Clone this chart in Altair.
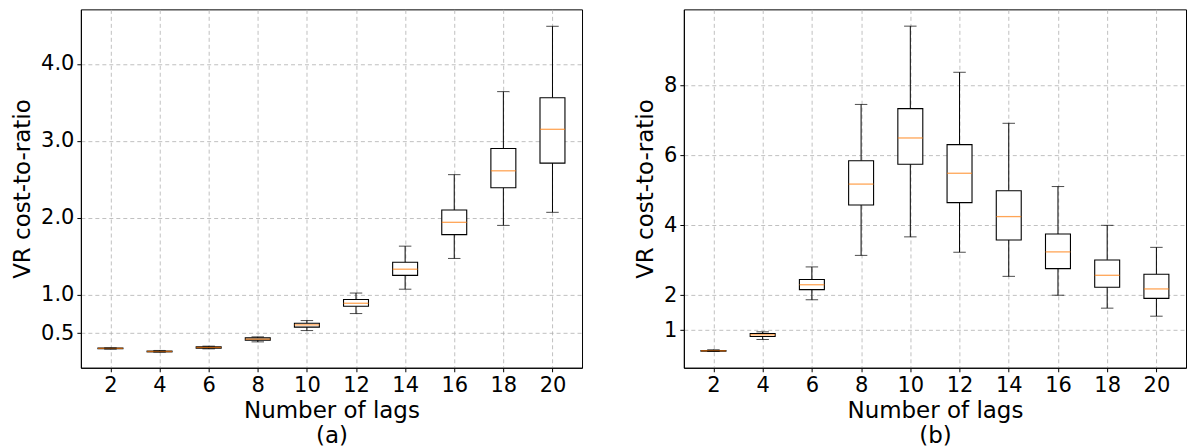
import altair as alt
import pandas as pd

lags = [2, 4, 6, 8, 10, 12, 14, 16, 18, 20]

# Panel (a)
a_low = [0.290, 0.251, 0.294, 0.385, 0.532, 0.753, 1.07, 1.47, 1.90, 2.07]
a_q1 = [0.295, 0.255, 0.303, 0.407, 0.576, 0.848, 1.25, 1.78, 2.39, 2.71]
a_med = [0.299, 0.260, 0.312, 0.420, 0.606, 0.887, 1.33, 1.94, 2.61, 3.15]
a_q3 = [0.303, 0.265, 0.320, 0.437, 0.628, 0.935, 1.42, 2.10, 2.90, 3.56]
a_high = [0.307, 0.273, 0.329, 0.450, 0.662, 1.02, 1.63, 2.56, 3.64, 4.49]

# Panel (b)
b_low = [0.39, 0.733, 1.87, 3.14, 3.67, 3.23, 2.54, 2.00, 1.63, 1.40]
b_q1 = [0.40, 0.82, 2.16, 4.58, 5.75, 4.65, 3.58, 2.76, 2.23, 1.91]
b_med = [0.41, 0.867, 2.30, 5.18, 6.50, 5.49, 4.25, 3.24, 2.57, 2.18]
b_q3 = [0.42, 0.905, 2.45, 5.85, 7.34, 6.31, 4.99, 3.75, 3.01, 2.60]
b_high = [0.44, 0.952, 2.81, 7.46, 9.70, 8.38, 6.92, 5.11, 4.00, 3.37]

FONT = "DejaVu Sans"
BOXW = 25
CAPW = 12.5


def panel(low, q1, med, q3, high, ydomain, yticks, yfmt, label, w):
    df = pd.DataFrame({"lag": lags, "low": low, "q1": q1, "med": med, "q3": q3, "high": high})
    x = alt.X("lag:Q", scale=alt.Scale(domain=[1, 21], nice=False, zero=False),
              axis=alt.Axis(values=lags, title=["Number of lags", label], grid=True))
    yscale = alt.Scale(domain=ydomain, nice=False, zero=False)
    yaxis = alt.Axis(values=yticks, format=yfmt, title="VR cost-to-ratio", grid=True)
    base = alt.Chart(df)
    w1 = base.mark_rule(color="black", strokeWidth=1).encode(
        x=x, y=alt.Y("low:Q", scale=yscale, axis=yaxis), y2="q1:Q")
    w2 = base.mark_rule(color="black", strokeWidth=1).encode(x="lag:Q", y="q3:Q", y2="high:Q")
    box = base.mark_bar(fill="white", stroke="black", strokeWidth=1.1, size=BOXW).encode(
        x="lag:Q", y="q1:Q", y2="q3:Q")
    medm = base.mark_tick(color="#ff7f0e", thickness=1.3, size=BOXW, orient="horizontal").encode(
        x="lag:Q", y="med:Q")
    caplo = base.mark_tick(color="black", thickness=1, size=CAPW, orient="horizontal").encode(
        x="lag:Q", y="low:Q")
    caphi = base.mark_tick(color="black", thickness=1, size=CAPW, orient="horizontal").encode(
        x="lag:Q", y="high:Q")
    return alt.layer(w1, w2, box, medm, caplo, caphi).properties(width=w, height=359)


left = panel(a_low, a_q1, a_med, a_q3, a_high, [0.048, 4.71], [0.5, 1.0, 2.0, 3.0, 4.0], ".1f", "(a)", 502)
right = panel(b_low, b_q1, b_med, b_q3, b_high, [-0.076, 10.18], [1, 2, 4, 6, 8], "d", "(b)", 503)

chart = alt.hconcat(left, right, spacing=51).properties(
    padding={"left": 3, "top": 0, "right": 0, "bottom": 0}
).configure_view(
    stroke="black", strokeWidth=1
).configure_axis(
    labelFont=FONT, titleFont=FONT, labelFontSize=21, titleFontSize=23,
    labelColor="black", titleColor="black", titleFontWeight="normal",
    domainColor="black", tickColor="black", tickSize=4,
    gridColor="#b0b0b0", gridDash=[4, 3], gridWidth=0.8,
    labelPadding=3, titlePadding=4, titleLineHeight=25,
).configure_axisY(titlePadding=6)

chart.save("out.html", embed_options={"renderer": "svg", "actions": False})
